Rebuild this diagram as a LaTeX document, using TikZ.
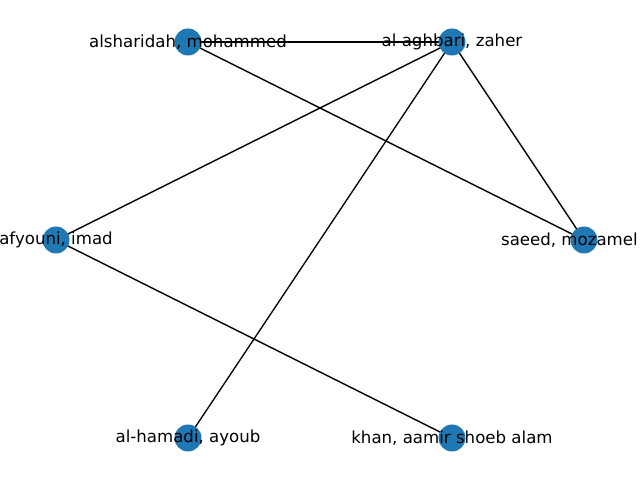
\documentclass[tikz,border=0pt]{standalone}
\usepackage{fontspec}
\setmainfont{DejaVu Sans}
\usepackage{tikz}
\usetikzlibrary{
	positioning,
	backgrounds
}
\definecolor{NodeBlue}{RGB}{31,119,180}

\tikzset{
	authordot/.style={
		circle,
		fill=NodeBlue,
		minimum size=19.5pt,
		inner sep=0pt
	},
	authorname/.style={
		font=\fontsize{12}{14}\selectfont,
		text=black,
		inner sep=0pt
	},
	coauthor/.style={
		black,
		line width=1pt
	}
}

\begin{document}
\begin{tikzpicture}[x=0.01in,y=-0.01in]
				
				\useasboundingbox (0,0) rectangle (640,480);
				
				% Nodes
				\node[authordot] (sharidah) at (188,42) {};
				\node[authordot] (aghbari) at (452,42) {};
				\node[authordot] (afyouni) at (56,240) {};
				\node[authordot] (saeed) at (584,240) {};
				\node[authordot] (hamadi) at (188,438) {};
				\node[authordot] (khan) at (452,438) {};
				
				% Labels
				\node[authorname] at (sharidah) {alsharidah, mohammed};
				\node[authorname] at (aghbari) {al aghbari, zaher};
				\node[authorname] at (afyouni) {afyouni, imad};
				\node[authorname, left=-0.54in of saeed.center] {saeed, mozamel};
				\node[authorname] at (hamadi) {al-hamadi, ayoub};
				\node[authorname] at (khan) {khan, aamir shoeb alam};
				
				% Connections
				\begin{pgfonlayer}{background}
				\draw[coauthor] (sharidah.center) -- (aghbari.center);
				\draw[coauthor] (sharidah.center) -- (saeed.center);
				\draw[coauthor] (aghbari.center) -- (afyouni.center);
				\draw[coauthor] (aghbari.center) -- (hamadi.center);
				\draw[coauthor] (aghbari.center) -- (saeed.center);
				\draw[coauthor] (afyouni.center) -- (khan.center);
				\end{pgfonlayer}
				
			\end{tikzpicture}
\end{document}
